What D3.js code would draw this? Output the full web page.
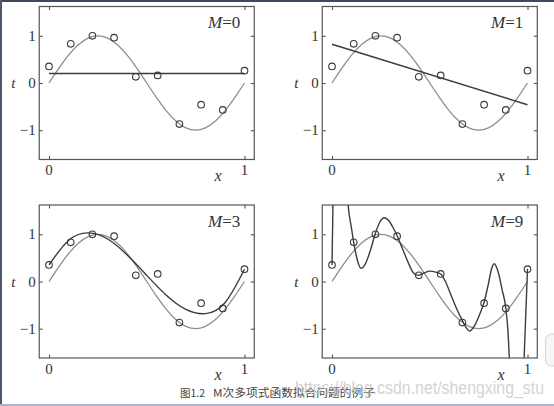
<!DOCTYPE html>
<html><head><meta charset="utf-8">
<script src="https://cdn.jsdelivr.net/npm/d3@7"></script>
<style>html,body{margin:0;padding:0;background:#fff;}svg{display:block;}</style>
</head><body>
<script>
// ---------- data ----------
const xTickLabels = ["0", "1"];
const xTickValues = [0, 1];
const yTickValues = [-1, 0, 1];
const yTickLabels = ["\u22121", "0", "1"];

const pointX = [0, 0.111, 0.222, 0.333, 0.444, 0.556, 0.667, 0.778, 0.889, 1];
const pointT = [0.35, 0.83, 1.0, 0.96, 0.13, 0.16, -0.87, -0.46, -0.57, 0.26];

const sineX = [0, 0.05, 0.1, 0.15, 0.2, 0.25, 0.3, 0.35, 0.4, 0.45, 0.5, 0.55, 0.6, 0.65, 0.7, 0.75, 0.8, 0.85, 0.9, 0.95, 1];
const sineT = [0, 0.31, 0.59, 0.81, 0.95, 1, 0.95, 0.81, 0.59, 0.31, 0, -0.31, -0.59, -0.81, -0.95, -1, -0.95, -0.81, -0.59, -0.31, 0];

const fit0X = [0, 1];
const fit0T = [0.2, 0.2];

const fit1X = [0, 1];
const fit1T = [0.82, -0.46];

const fit3X = [0, 0.1, 0.2, 0.3, 0.4, 0.5, 0.6, 0.7, 0.8, 0.9, 1];
const fit3T = [0.35, 0.87, 1.03, 0.9, 0.56, 0.13, -0.29, -0.59, -0.68, -0.45, 0.26];

const fit9X = [0, 0.006, 0.03, 0.06, 0.08, 0.1, 0.111, 0.13, 0.148, 0.17, 0.195, 0.222, 0.245, 0.267, 0.29, 0.31, 0.333, 0.36, 0.39, 0.415, 0.44, 0.47, 0.5, 0.53, 0.556, 0.58, 0.61, 0.64, 0.667, 0.685, 0.704, 0.73, 0.755, 0.778, 0.8, 0.815, 0.83, 0.85, 0.87, 0.889, 0.9, 0.91, 0.93, 0.96, 0.982, 1];
const fit9T = [0.35, 1.9, 4, 4, 1.75, 1.12, 0.83, 0.45, 0.28, 0.37, 0.64, 1.02, 1.26, 1.35, 1.29, 1.16, 0.97, 0.7, 0.4, 0.19, 0.13, 0.18, 0.22, 0.2, 0.16, 0.0, -0.3, -0.6, -0.83, -0.97, -1.05, -0.93, -0.7, -0.44, -0.05, 0.25, 0.375, 0.2, -0.17, -0.56, -1.05, -1.9, -4, -4, -1.7, 0.27];

const panelLabels = ["0", "1", "3", "9"];
const captionFig = "图1.2";
const captionText = "M次多项式函数拟合问题的例子";
const watermark = "https://blog.csdn.net/shengxing_stu";

// ---------- layout ----------
const W = 554, H = 406;
const svg = d3.select("body").append("svg").attr("width", W).attr("height", H);
svg.append("rect").attr("width", W).attr("height", H).attr("fill", "#ffffff");

const fits = [
  {x: fit0X, t: fit0T, curve: d3.curveLinear},
  {x: fit1X, t: fit1T, curve: d3.curveLinear},
  {x: fit3X, t: fit3T, curve: d3.curveNatural},
  {x: fit9X, t: fit9T, curve: d3.curveMonotoneX}
];
const origins = [[49, 6.5], [332, 6.5], [49, 205], [332, 205]];
const unitX = 195.5, plotH = 153;

const serif = "'Liberation Serif', 'DejaVu Serif', serif";

origins.forEach((o, i) => {
  const x = d3.scaleLinear().domain([-0.05, 1.05]).range([o[0] - 0.05 * unitX, o[0] + 1.05 * unitX]);
  const y = d3.scaleLinear().domain([-1.62, 1.62]).range([o[1] + plotH, o[1]]);
  const g = svg.append("g");
  const [x0, x1] = x.range();
  const [yb, yt] = y.range();

  const clipId = "clip" + i;
  svg.append("clipPath").attr("id", clipId).append("rect")
    .attr("x", x0).attr("y", yt).attr("width", x1 - x0).attr("height", yb - yt);

  const line = d3.line().x(d => x(d[0])).y(d => y(d[1]));
  const plot = g.append("g").attr("clip-path", `url(#${clipId})`);

  // true curve
  plot.append("path")
    .attr("d", line.curve(d3.curveNatural)(sineX.map((v, k) => [v, sineT[k]])))
    .attr("fill", "none").attr("stroke", "#8e8e8e").attr("stroke-width", 1.3);

  // fitted curve
  const f = fits[i];
  plot.append("path")
    .attr("d", line.curve(f.curve)(f.x.map((v, k) => [v, f.t[k]])))
    .attr("fill", "none").attr("stroke", "#3c3c3c").attr("stroke-width", 1.4);

  // points
  plot.selectAll("circle").data(pointX.map((v, k) => [v, pointT[k]])).enter().append("circle")
    .attr("cx", d => x(d[0])).attr("cy", d => y(d[1])).attr("r", 3.3)
    .attr("fill", "none").attr("stroke", "#3a3a3a").attr("stroke-width", 1.1);

  // frame
  g.append("rect").attr("x", x0).attr("y", yt).attr("width", x1 - x0).attr("height", yb - yt)
    .attr("fill", "none").attr("stroke", "#555").attr("stroke-width", 1.2);

  // axes with inward ticks
  const axB = d3.axisBottom(x).tickValues(xTickValues).tickSize(-3.5).tickFormat("");
  const axT = d3.axisTop(x).tickValues(xTickValues).tickSize(-3.5).tickFormat("");
  const axL = d3.axisLeft(y).tickValues(yTickValues).tickSize(-3.5).tickFormat("");
  const axR = d3.axisRight(y).tickValues(yTickValues).tickSize(-3.5).tickFormat("");
  [[axB, `translate(0,${yb})`], [axT, `translate(0,${yt})`], [axL, `translate(${x0},0)`], [axR, `translate(${x1},0)`]]
    .forEach(([ax, tr]) => {
      const a = g.append("g").attr("transform", tr).call(ax);
      a.select(".domain").remove();
      a.selectAll("line").attr("stroke", "#555").attr("stroke-width", 1.1);
    });

  // tick labels
  g.selectAll(".xl").data(xTickValues).enter().append("text")
    .attr("x", d => x(d)).attr("y", yb + 15.5).attr("text-anchor", "middle")
    .attr("font-family", serif).attr("font-size", 15).attr("fill", "#333")
    .text((d, k) => xTickLabels[k]);
  g.selectAll(".yl").data(yTickValues).enter().append("text")
    .attr("x", x0 - 3.5).attr("y", d => y(d) + 5).attr("text-anchor", "end")
    .attr("font-family", serif).attr("font-size", 15).attr("fill", "#333")
    .text((d, k) => yTickLabels[k]);

  // axis titles
  g.append("text").attr("x", x(0.865)).attr("y", yb + 21.5).attr("text-anchor", "middle")
    .attr("font-family", serif).attr("font-style", "italic").attr("font-size", 16).attr("fill", "#333").text("x");
  g.append("text").attr("x", x0 - 26).attr("y", y(0) + 5).attr("text-anchor", "middle")
    .attr("font-family", serif).attr("font-style", "italic").attr("font-size", 15).attr("fill", "#333").text("t");

  // panel label
  const lab = g.append("text").attr("x", x1 - 14).attr("y", yt + 21.5).attr("text-anchor", "end")
    .attr("font-family", serif).attr("font-size", 17).attr("fill", "#333");
  lab.append("tspan").attr("font-style", "italic").text("M");
  lab.append("tspan").text("=" + panelLabels[i]);
});

// caption
svg.append("text").attr("x", 180).attr("y", 397).attr("font-family", "'Noto Sans CJK SC', serif")
  .attr("font-size", 10.5).attr("fill", "#444").text(captionFig);
svg.append("text").attr("x", 213).attr("y", 397).attr("font-family", "'Noto Sans CJK SC', serif")
  .attr("font-size", 11).attr("fill", "#444").attr("textLength", 162).attr("lengthAdjust", "spacingAndGlyphs").text(captionText);
// watermark
svg.append("text").attr("x", 295).attr("y", 394).attr("font-family", "'Liberation Sans', Arial, sans-serif")
  .attr("font-size", 18).attr("fill", "#c4c4c4").attr("fill-opacity", 0.75)
  .attr("textLength", 249).attr("lengthAdjust", "spacingAndGlyphs").text(watermark);

// screenshot borders
svg.append("rect").attr("x", 0).attr("y", 0).attr("width", W).attr("height", 2).attr("fill", "#3e4a5a");
svg.append("rect").attr("x", 0).attr("y", 0).attr("width", 2).attr("height", H).attr("fill", "#4e5a6c");
svg.append("rect").attr("x", 0).attr("y", 404).attr("width", W).attr("height", 2).attr("fill", "#aab6c8");
svg.append("rect").attr("x", 545.5).attr("y", 334).attr("width", 20).attr("height", 32).attr("rx", 6)
  .attr("fill", "#f6f6f6").attr("stroke", "#d4d4d4");
</script>
</body></html>
